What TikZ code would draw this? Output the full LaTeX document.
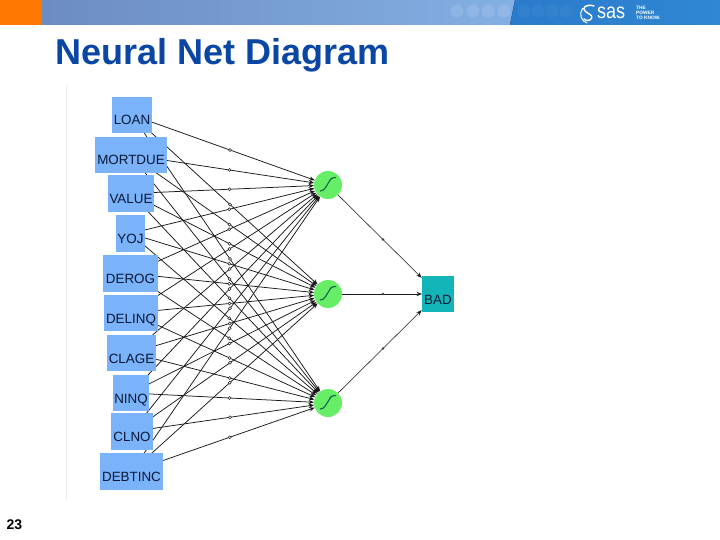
\documentclass[tikz,border=0pt]{standalone}
\usepackage{fontspec}
\setmainfont{Liberation Sans}
\usetikzlibrary{arrows.meta}
\definecolor{inboxc}{HTML}{7AB3FA}
\definecolor{hidc}{HTML}{66EE66}
\definecolor{outboxc}{HTML}{13B5B8}
\definecolor{titleblue}{HTML}{0A46A4}
\definecolor{txtc}{HTML}{0A1838}
\definecolor{barA}{HTML}{6C8CC2}
\definecolor{barB}{HTML}{84B0E4}
\definecolor{barC}{HTML}{2A7BCB}
\definecolor{barD}{HTML}{3087D3}
\definecolor{sigc}{HTML}{1A5E50}
\tikzset{
 inputbox/.style={fill=inboxc,draw=none,inner sep=0pt,font=\fontsize{13.4}{13.4}\selectfont,text=txtc},
 hiddenunit/.style={circle,fill=hidc,draw=none,minimum size=28pt,inner sep=0pt},
 outputbox/.style={fill=outboxc,draw=none,inner sep=0pt,font=\fontsize{13.4}{13.4}\selectfont,text=txtc},
 conn/.style={draw=black!90,line width=.75pt,-{Stealth[length=5.5pt,width=4.2pt]}},
 middot/.style={circle,draw=black!85,fill=white,line width=.55pt,minimum size=3pt,inner sep=0pt},
 outdot/.style={circle,fill=black!75,minimum size=2.6pt,inner sep=0pt},
 sigmoid/.style={draw=sigc,line width=1.1pt},
 hdot/.style={circle,fill=white,fill opacity=.11,minimum size=13pt,inner sep=0pt},
}
\begin{document}
\begin{tikzpicture}[x=1pt,y=-1pt]
\useasboundingbox (0,0) rectangle (720,540);
\fill[white] (0,0) rectangle (720,540);
% header band
\fill[orange!95!red] (0,0) rectangle (42,25);
\fill[left color=barA,right color=barB] (42,0) rectangle (516,25);
\fill[left color=barC,right color=barD] (515,0) -- (720,0) -- (720,25) -- (510,25) -- cycle;
\foreach \x in {457,473,488,504} \node[hdot] at (\x,11) {};
\foreach \x in {524,538,552,566} \node[hdot,fill opacity=.04] at (\x,11) {};
% SAS logo
\draw[white,line width=1.4pt,line cap=round] (594,6) .. controls (586,3.5) and (581.5,8) .. (585,11) .. controls (588,14) and (593.5,15) .. (591.5,18.5) .. controls (590,21) and (586,21) .. (584,19);
\draw[white,line width=1pt,line cap=round] (582.5,8.5) .. controls (578.5,14) and (581.5,21.5) .. (587,23);
\node[text=white,inner sep=0pt,anchor=base west,font=\fontsize{21.5}{21.5}\selectfont,xscale=.84] at (597,18.5) {sas};
\node[text=white,inner sep=0pt,anchor=west,align=left,font=\fontsize{4.8}{4.9}\bfseries\selectfont] at (636,12.5) {THE\\POWER\\TO KNOW.};
% title and page number
\node[text=titleblue,inner sep=0pt,anchor=base west,font=\fontsize{36}{36}\bfseries\selectfont] at (55,65) {Neural Net Diagram};
\node[text=black,inner sep=0pt,anchor=base west,font=\fontsize{14}{14}\bfseries\selectfont] at (6.5,529) {23};
% faint frame rule
\draw[black!7,line width=.6pt] (66.5,85) -- (66.5,500);
\path (328,185) coordinate (hc1) (328,294) coordinate (hc2) (328,403) coordinate (hc3) (438,294) coordinate (BADc);
% connectors input to hidden, centre to centre
\foreach \n/\cx/\cy in {LOAN/132/115,MORTDUE/131/155,VALUE/131/193.5,YOJ/130.5/233.5,DEROG/130.5/273.5,DELINQ/131/313,CLAGE/131.5/353,NINQ/131/393,CLNO/132/431.5,DEBTINC/131.5/471.5}{
  \coordinate (c\n) at (\cx,\cy);
  \foreach \t in {1,2,3}{
    \draw[conn,shorten >=14pt] (c\n) -- node[middot,pos=.5]{} (hc\t);
  }
}
% connectors hidden to output
\draw[conn,line width=.55pt,shorten >=23pt] (hc1) -- node[outdot,pos=.5]{} (BADc);
\draw[conn,line width=.9pt,shorten >=16pt] (hc2) -- node[outdot,pos=.5]{} (BADc);
\draw[conn,line width=.55pt,shorten >=23pt] (hc3) -- node[outdot,pos=.5]{} (BADc);
% input boxes
\foreach \n/\cx/\cy/\w/\h in {LOAN/132/115/40/36,MORTDUE/131/155/72/36,VALUE/131/193.5/46/37,YOJ/130.5/233.5/29/37,DEROG/130.5/273.5/55/37,DELINQ/131/313/54/36,CLAGE/131.5/353/49/36,NINQ/131/393/36/36,CLNO/132/431.5/42/37,DEBTINC/131.5/471.5/63/37}{
  \pgfmathsetmacro{\td}{\h/2-10}
  \pgfmathsetmacro{\tu}{\h/2+10}
  \node[inputbox,minimum width=\w pt,text height=\tu pt,text depth=\td pt] (\n) at (\cx,\cy) {\n};
}
% hidden units with activation curve
\foreach \t in {1,2,3}{
  \node[hiddenunit] (h\t) at (hc\t) {};
  \draw[sigmoid] ([shift={(-8,6)}]h\t.center) .. controls ([shift={(-3,6.5)}]h\t.center) and ([shift={(-1,-1)}]h\t.center) .. ([shift={(1,-3)}]h\t.center) .. controls ([shift={(2.5,-6.5)}]h\t.center) and ([shift={(4,-7.5)}]h\t.center) .. ([shift={(8,-7.5)}]h\t.center);
}
% output box
\node[outputbox,minimum width=32pt,text height=28pt,text depth=8pt] (BAD) at (BADc) {BAD};
\end{tikzpicture}
\end{document}
